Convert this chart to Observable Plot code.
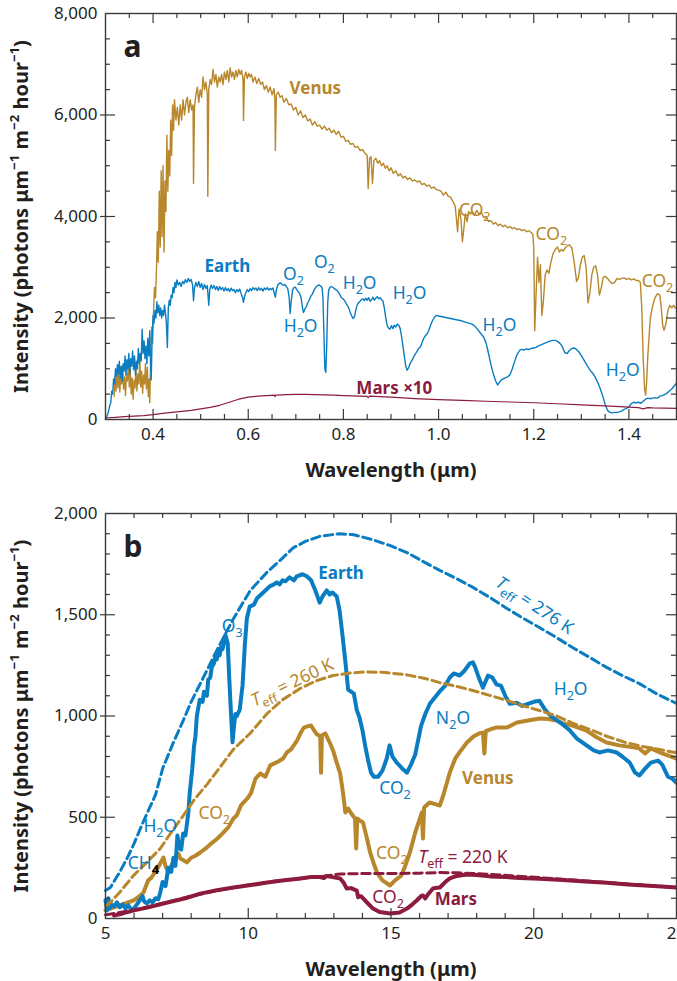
<!DOCTYPE html>
<html>
<head>
<meta charset="utf-8">
<script src="https://cdn.jsdelivr.net/npm/d3@7"></script>
<script src="https://cdn.jsdelivr.net/npm/@observablehq/plot@0.6"></script>
<style>
  html, body { margin: 0; padding: 0; background: #fff; overflow: hidden; }
  #chart { width: 677px; }
  #chart svg { display: block; }
</style>
</head>
<body>
<div id="chart"></div>
<script>
// ---------- Panel a: reflected spectra (wavelength µm, intensity) ----------
const venusA = [
[0.318,450],[0.320,820],[0.322,560],[0.324,950],[0.326,620],[0.328,1000],[0.330,540],[0.332,860],[0.334,700],[0.336,1060],[0.338,600],[0.340,840],[0.342,470],[0.344,900],[0.346,760],[0.348,1140],[0.350,640],[0.352,980],[0.354,500],[0.356,820],[0.358,400],[0.360,780],[0.362,620],[0.364,1000],[0.366,560],[0.368,900],[0.370,700],[0.372,1180],[0.374,640],[0.376,950],[0.378,520],[0.380,880],[0.382,700],[0.384,1100],[0.386,600],[0.388,1030],[0.390,450],[0.392,800],[0.393,330],[0.395,1200],[0.397,1820],[0.399,1500],[0.401,2150],[0.403,2600],[0.405,2400],[0.407,2900],[0.409,3700],[0.411,3100],[0.413,4500],[0.415,3400],[0.417,4900],[0.419,3600],[0.421,5000],[0.423,3300],[0.425,4700],[0.427,4100],[0.429,5600],[0.431,4500],[0.433,5300],[0.435,4800],[0.437,5900],[0.439,5200],[0.441,6200],[0.443,5700],[0.445,6300],[0.448,5900],[0.451,6150],[0.454,5800],[0.457,6200],[0.460,5900],[0.463,6300],[0.466,6000],[0.469,6250],[0.472,6350],[0.475,6050],[0.478,6300],[0.481,6100],[0.484,6200],[0.485,4650],[0.487,6150],[0.490,6400],[0.493,6550],[0.496,6250],[0.499,6500],[0.502,6350],[0.505,6750],[0.508,6500],[0.511,6650],[0.514,6400],[0.515,4400],[0.517,6500],[0.520,6700],[0.523,6600],[0.526,6900],[0.529,6650],[0.532,6800],[0.535,6550],[0.538,6750],[0.541,6650],[0.544,6800],[0.547,6600],[0.550,6850],[0.553,6700],[0.556,6880],[0.559,6650],[0.562,6930],[0.565,6750],[0.568,6850],[0.571,6700],[0.574,6880],[0.577,6750],[0.580,6900],[0.583,6800],[0.586,6880],[0.589,6700],[0.590,5890],[0.592,6750],[0.595,6850],[0.598,6720],[0.601,6820],[0.604,6750],[0.607,6800],[0.610,6650],[0.614,6750],[0.618,6620],[0.622,6720],[0.626,6600],[0.630,6650],[0.634,6500],[0.638,6580],[0.642,6450],[0.646,6550],[0.650,6400],[0.654,6520],[0.656,6300],[0.657,5300],[0.659,6400],[0.663,6450],[0.667,6350],[0.671,6380],[0.675,6250],[0.680,6330],[0.685,6200],[0.690,6220],[0.695,6100],[0.700,6150],[0.705,6000],[0.710,6080],[0.715,5950],[0.720,6000],[0.725,5880],[0.730,5920],[0.735,5800],[0.740,5870],[0.745,5780],[0.750,5800],[0.755,5720],[0.760,5780],[0.765,5700],[0.770,5740],[0.775,5650],[0.780,5700],[0.785,5620],[0.790,5680],[0.795,5560],[0.800,5580],[0.805,5480],[0.810,5500],[0.815,5420],[0.820,5440],[0.825,5360],[0.830,5380],[0.835,5300],[0.840,5320],[0.845,5250],[0.850,5200],[0.852,4550],[0.855,5150],[0.858,5180],[0.861,4650],[0.864,5100],[0.868,5150],[0.872,5050],[0.876,5100],[0.880,5000],[0.884,5050],[0.888,4950],[0.892,5000],[0.896,4900],[0.900,4960],[0.905,4850],[0.910,4900],[0.915,4800],[0.920,4840],[0.925,4760],[0.930,4790],[0.935,4730],[0.940,4760],[0.945,4700],[0.950,4720],[0.955,4680],[0.960,4700],[0.965,4630],[0.970,4650],[0.975,4600],[0.980,4620],[0.985,4560],[0.990,4580],[0.995,4530],[1.000,4520],[1.005,4500],[1.010,4420],[1.015,4480],[1.020,4400],[1.025,4380],[1.030,4300],[1.035,4200],[1.040,3700],[1.043,4150],[1.047,3950],[1.050,3500],[1.053,3750],[1.056,4050],[1.060,3900],[1.063,4100],[1.067,4050],[1.071,4100],[1.075,4020],[1.080,4120],[1.085,4050],[1.090,4080],[1.095,3980],[1.100,4000],[1.105,3900],[1.110,3920],[1.115,3850],[1.120,3880],[1.125,3820],[1.130,3850],[1.135,3800],[1.140,3830],[1.145,3780],[1.150,3800],[1.155,3760],[1.160,3780],[1.165,3740],[1.170,3760],[1.175,3720],[1.180,3740],[1.185,3700],[1.190,3720],[1.195,3680],[1.198,3650],[1.200,3400],[1.202,1750],[1.205,2500],[1.208,3200],[1.211,2700],[1.214,3050],[1.217,2050],[1.220,2300],[1.224,2850],[1.228,2950],[1.232,2880],[1.236,3100],[1.240,3250],[1.245,3350],[1.250,3400],[1.254,3300],[1.258,3350],[1.262,3320],[1.266,3380],[1.270,3420],[1.275,3440],[1.280,3380],[1.285,3100],[1.290,2720],[1.294,2800],[1.298,3050],[1.302,3200],[1.306,3230],[1.310,3000],[1.314,2300],[1.318,2500],[1.322,2850],[1.326,3000],[1.330,3030],[1.334,2850],[1.338,2450],[1.342,2600],[1.346,2800],[1.350,2820],[1.355,2780],[1.360,2720],[1.365,2680],[1.370,2700],[1.375,2780],[1.380,2760],[1.385,2780],[1.390,2790],[1.395,2760],[1.400,2780],[1.405,2750],[1.410,2770],[1.415,2740],[1.420,2740],[1.424,2700],[1.427,2200],[1.430,1200],[1.433,600],[1.435,480],[1.437,700],[1.440,1300],[1.445,2000],[1.450,2250],[1.455,2400],[1.460,2480],[1.465,2450],[1.468,2200],[1.471,1850],[1.474,1760],[1.478,1900],[1.482,2150],[1.486,2250],[1.490,2200],[1.494,2250],[1.497,2200],[1.500,2200]
];
const earthA = [
[0.300,0],[0.303,60],[0.306,150],[0.309,280],[0.311,330],[0.313,560],[0.315,500],[0.317,800],[0.319,700],[0.321,1000],[0.323,850],[0.325,1080],[0.327,900],[0.329,1150],[0.331,820],[0.333,1050],[0.335,760],[0.337,1100],[0.339,950],[0.341,1250],[0.343,880],[0.345,1180],[0.347,1000],[0.349,1300],[0.351,900],[0.353,1200],[0.355,1050],[0.357,1350],[0.359,980],[0.361,1250],[0.363,880],[0.365,1150],[0.367,1000],[0.369,1400],[0.371,1100],[0.373,1300],[0.375,1150],[0.377,1780],[0.379,1300],[0.381,1550],[0.383,1200],[0.385,1450],[0.387,1100],[0.389,1600],[0.391,1250],[0.393,1750],[0.395,1000],[0.396,780],[0.398,1600],[0.400,2050],[0.402,1900],[0.404,2150],[0.406,2000],[0.408,2320],[0.410,2100],[0.412,2250],[0.414,2050],[0.416,2200],[0.418,2000],[0.420,2150],[0.422,2050],[0.424,2250],[0.426,2100],[0.428,1900],[0.430,1420],[0.432,2200],[0.434,2350],[0.436,2250],[0.438,2450],[0.440,2400],[0.442,2600],[0.444,2500],[0.446,2700],[0.448,2600],[0.450,2750],[0.453,2650],[0.456,2700],[0.459,2620],[0.462,2720],[0.465,2680],[0.468,2760],[0.471,2700],[0.474,2780],[0.477,2720],[0.480,2760],[0.483,2650],[0.485,2340],[0.487,2600],[0.490,2700],[0.493,2620],[0.496,2720],[0.499,2600],[0.502,2680],[0.505,2560],[0.508,2660],[0.511,2580],[0.514,2640],[0.517,2250],[0.519,2550],[0.522,2650],[0.525,2580],[0.528,2640],[0.531,2560],[0.534,2620],[0.537,2540],[0.540,2620],[0.543,2560],[0.546,2600],[0.549,2530],[0.552,2600],[0.555,2540],[0.558,2580],[0.561,2520],[0.564,2590],[0.567,2540],[0.570,2560],[0.573,2500],[0.576,2560],[0.579,2520],[0.582,2570],[0.585,2480],[0.588,2400],[0.590,2310],[0.592,2420],[0.595,2500],[0.598,2560],[0.601,2520],[0.604,2580],[0.607,2540],[0.610,2600],[0.613,2560],[0.616,2590],[0.619,2540],[0.622,2600],[0.625,2550],[0.628,2580],[0.631,2530],[0.634,2590],[0.637,2560],[0.640,2600],[0.643,2550],[0.646,2580],[0.649,2560],[0.652,2590],[0.655,2480],[0.657,2410],[0.659,2550],[0.662,2650],[0.665,2680],[0.668,2690],[0.671,2660],[0.674,2640],[0.677,2660],[0.680,2620],[0.683,2580],[0.686,2400],[0.688,2090],[0.690,2300],[0.693,2550],[0.696,2600],[0.699,2610],[0.702,2560],[0.705,2520],[0.708,2480],[0.711,2400],[0.714,2200],[0.716,2110],[0.719,2180],[0.722,2220],[0.725,2300],[0.728,2350],[0.731,2420],[0.734,2460],[0.737,2520],[0.740,2580],[0.743,2620],[0.746,2640],[0.749,2650],[0.752,2630],[0.755,2600],[0.757,2400],[0.759,1700],[0.761,1000],[0.763,930],[0.765,1500],[0.767,2300],[0.769,2550],[0.772,2610],[0.775,2620],[0.778,2600],[0.781,2580],[0.784,2560],[0.787,2540],[0.790,2500],[0.793,2450],[0.796,2400],[0.799,2380],[0.802,2350],[0.805,2300],[0.808,2250],[0.811,2200],[0.814,2120],[0.817,2050],[0.820,1990],[0.823,2020],[0.826,2150],[0.829,2260],[0.832,2300],[0.835,2330],[0.838,2360],[0.841,2380],[0.844,2340],[0.847,2390],[0.850,2350],[0.853,2400],[0.856,2330],[0.859,2360],[0.862,2410],[0.865,2350],[0.868,2390],[0.871,2420],[0.874,2380],[0.877,2400],[0.880,2360],[0.883,2340],[0.886,2200],[0.889,2000],[0.892,1850],[0.895,1800],[0.898,1780],[0.901,1850],[0.904,1790],[0.907,1860],[0.910,1820],[0.913,1880],[0.916,1860],[0.919,1800],[0.922,1650],[0.925,1450],[0.928,1250],[0.931,1050],[0.934,970],[0.937,1020],[0.940,1100],[0.943,1150],[0.946,1200],[0.949,1260],[0.952,1300],[0.955,1350],[0.958,1400],[0.961,1420],[0.964,1480],[0.967,1560],[0.970,1620],[0.973,1660],[0.976,1690],[0.979,1750],[0.982,1820],[0.985,1900],[0.988,1960],[0.991,2010],[0.994,2040],[0.997,2050],[1.000,2040],[1.010,2020],[1.020,2000],[1.030,1980],[1.040,1960],[1.050,1940],[1.060,1910],[1.070,1880],[1.075,1850],[1.080,1800],[1.085,1740],[1.090,1680],[1.095,1620],[1.100,1500],[1.105,1300],[1.110,1080],[1.115,900],[1.120,760],[1.124,680],[1.128,730],[1.132,780],[1.136,800],[1.140,820],[1.145,840],[1.150,880],[1.155,1000],[1.160,1150],[1.165,1280],[1.170,1360],[1.175,1380],[1.180,1370],[1.185,1390],[1.190,1380],[1.195,1400],[1.200,1410],[1.205,1420],[1.210,1450],[1.215,1470],[1.220,1490],[1.225,1510],[1.230,1530],[1.235,1550],[1.240,1560],[1.245,1560],[1.250,1540],[1.255,1500],[1.260,1440],[1.265,1320],[1.270,1300],[1.275,1360],[1.280,1400],[1.285,1410],[1.290,1380],[1.295,1330],[1.300,1260],[1.305,1180],[1.310,1100],[1.315,1020],[1.320,950],[1.325,900],[1.330,820],[1.335,720],[1.340,600],[1.345,460],[1.350,300],[1.355,180],[1.360,140],[1.365,130],[1.370,140],[1.375,140],[1.380,150],[1.385,170],[1.390,200],[1.395,220],[1.400,250],[1.405,310],[1.410,340],[1.415,330],[1.420,340],[1.425,320],[1.430,360],[1.435,400],[1.440,420],[1.445,410],[1.450,420],[1.455,430],[1.460,420],[1.465,460],[1.470,470],[1.475,490],[1.480,520],[1.485,560],[1.490,600],[1.495,660],[1.500,720]
];
const marsA = [
[0.300,30],[0.320,40],[0.340,55],[0.360,65],[0.380,75],[0.400,95],[0.420,120],[0.440,140],[0.460,160],[0.480,180],[0.500,210],[0.520,240],[0.540,280],[0.560,340],[0.580,400],[0.600,440],[0.620,460],[0.640,470],[0.655,480],[0.656,450],[0.658,480],[0.680,490],[0.700,495],[0.720,495],[0.740,490],[0.760,485],[0.780,480],[0.800,470],[0.850,455],[0.852,430],[0.855,460],[0.900,440],[0.950,410],[1.000,390],[1.050,375],[1.100,360],[1.150,345],[1.200,330],[1.250,310],[1.300,290],[1.350,270],[1.400,245],[1.420,235],[1.430,210],[1.440,235],[1.450,230],[1.500,220]
];

// ---------- Panel b: thermal emission ----------
const earthB = [
[5.0,90],[5.05,40],[5.1,100],[5.15,50],[5.2,70],[5.3,60],[5.4,80],[5.5,55],[5.6,70],[5.7,50],[5.8,65],[5.9,45],[6.0,50],[6.1,70],[6.2,90],[6.3,110],[6.35,85],[6.45,75],[6.55,90],[6.65,80],[6.75,100],[6.85,95],[6.92,130],[7.0,180],[7.1,160],[7.2,250],[7.3,230],[7.38,300],[7.45,260],[7.52,410],[7.58,350],[7.65,340],[7.72,420],[7.8,410],[7.9,520],[7.95,620],[8.04,740],[8.1,850],[8.15,900],[8.2,1000],[8.3,1080],[8.4,1070],[8.45,1120],[8.55,1100],[8.6,1180],[8.67,1190],[8.72,1240],[8.8,1260],[8.85,1290],[8.9,1280],[8.95,1320],[9.0,1300],[9.05,1340],[9.1,1330],[9.2,1400],[9.28,1360],[9.33,1200],[9.4,1000],[9.45,870],[9.5,950],[9.55,1010],[9.6,1000],[9.7,1030],[9.8,1150],[9.88,1350],[9.95,1480],[10.05,1540],[10.2,1550],[10.3,1580],[10.45,1600],[10.6,1620],[10.75,1640],[10.9,1650],[11.0,1660],[11.1,1650],[11.2,1670],[11.3,1665],[11.45,1685],[11.6,1670],[11.7,1690],[11.9,1700],[12.05,1690],[12.2,1670],[12.35,1620],[12.5,1560],[12.6,1590],[12.75,1620],[12.85,1600],[12.95,1610],[13.1,1590],[13.2,1520],[13.3,1400],[13.4,1270],[13.5,1130],[13.6,1120],[13.7,1110],[13.8,1030],[13.9,990],[14.0,930],[14.1,850],[14.2,780],[14.3,720],[14.4,700],[14.55,700],[14.7,730],[14.85,790],[14.95,855],[15.05,800],[15.2,770],[15.4,740],[15.56,720],[15.7,760],[15.85,810],[15.95,880],[16.05,950],[16.2,1010],[16.36,1060],[16.5,1085],[16.7,1120],[16.9,1150],[17.06,1190],[17.2,1210],[17.4,1200],[17.55,1220],[17.76,1260],[17.87,1265],[17.95,1240],[18.1,1180],[18.22,1140],[18.4,1200],[18.55,1190],[18.7,1155],[18.85,1150],[19.0,1100],[19.16,1060],[19.4,1065],[19.6,1050],[19.8,1060],[20.0,1070],[20.2,1075],[20.4,1030],[20.6,1000],[20.8,980],[21.0,960],[21.26,930],[21.5,890],[21.85,855],[22.1,830],[22.3,820],[22.6,830],[22.9,820],[23.1,800],[23.36,770],[23.55,720],[23.7,706],[23.9,740],[24.1,770],[24.35,780],[24.5,760],[24.7,700],[24.86,690],[25.0,670]
];
const venusB = [
[5.0,40],[5.17,49],[5.4,60],[5.6,70],[5.98,89],[6.15,105],[6.33,128],[6.5,190],[6.6,200],[6.82,247],[6.95,280],[7.03,301],[7.1,260],[7.2,227],[7.3,260],[7.38,277],[7.47,300],[7.55,321],[7.62,296],[7.7,290],[7.85,277],[8.0,300],[8.15,310],[8.32,326],[8.5,345],[8.7,370],[8.92,395],[9.1,420],[9.3,450],[9.48,494],[9.6,510],[9.75,560],[9.97,593],[10.1,620],[10.25,690],[10.42,716],[10.6,700],[10.77,756],[10.9,765],[11.05,775],[11.22,790],[11.35,820],[11.5,835],[11.71,879],[11.85,920],[11.95,943],[12.1,950],[12.2,953],[12.3,930],[12.4,910],[12.52,900],[12.55,720],[12.58,905],[12.7,914],[12.85,870],[12.97,830],[13.1,770],[13.22,716],[13.32,620],[13.4,523],[13.5,543],[13.6,520],[13.74,494],[13.78,346],[13.82,494],[13.95,480],[14.02,474],[14.15,400],[14.27,326],[14.4,270],[14.51,227],[14.7,188],[14.97,163],[15.15,190],[15.35,210],[15.5,260],[15.66,326],[15.85,425],[16.08,523],[16.12,395],[16.16,548],[16.35,573],[16.55,565],[16.71,558],[16.85,617],[17.06,721],[17.25,790],[17.45,830],[17.66,869],[17.9,900],[18.1,915],[18.22,918],[18.27,815],[18.32,925],[18.5,935],[18.7,943],[19.06,943],[19.41,968],[19.8,978],[20.2,988],[20.5,985],[20.8,978],[21.0,965],[21.36,953],[21.85,928],[22.2,895],[22.55,869],[23.0,855],[23.5,845],[23.7,840],[23.9,815],[24.1,840],[24.5,815],[25.0,790]
];
const marsB = [
[5.3,15],[5.6,25],[6.0,40],[6.5,55],[7.17,79],[7.8,100],[8.32,123],[8.9,140],[9.48,153],[10.1,165],[10.66,178],[11.2,188],[11.82,198],[12.2,205],[12.52,205],[12.65,200],[12.75,210],[13.0,203],[13.22,198],[13.35,175],[13.45,148],[13.6,150],[13.8,138],[13.85,105],[13.95,110],[14.16,79],[14.37,49],[14.6,32],[14.97,25],[15.3,30],[15.56,49],[15.75,70],[15.9,89],[16.05,110],[16.12,114],[16.2,99],[16.3,120],[16.47,148],[16.6,152],[16.71,153],[16.9,180],[17.06,198],[17.3,210],[17.66,217],[18.0,215],[18.46,208],[19.0,205],[19.5,200],[20.2,196],[21.0,190],[21.8,183],[22.55,176],[23.3,168],[24.2,160],[25.0,153]
];
// blackbody curves (dashed)
const earthBB = [
[5.0,138],[5.17,153],[5.5,230],[5.77,301],[6.0,370],[6.33,480],[6.75,610],[7.0,740],[7.38,870],[7.73,980],[8.0,1070],[8.57,1230],[8.92,1330],[9.48,1480],[10.07,1620],[10.66,1710],[11.2,1780],[11.57,1830],[12.0,1862],[12.52,1888],[13.2,1900],[13.7,1895],[14.37,1870],[15.0,1840],[15.56,1807],[16.1,1765],[16.71,1719],[17.3,1678],[17.87,1635],[18.5,1582],[19.06,1531],[19.6,1485],[20.2,1437],[20.8,1387],[21.36,1338],[21.95,1290],[22.55,1240],[23.1,1200],[23.7,1160],[24.3,1110],[25.0,1062]
];
const venusBB = [
[5.0,62],[5.17,79],[5.5,130],[5.98,212],[6.5,285],[6.92,346],[7.3,425],[7.73,509],[8.1,585],[8.57,665],[9.0,745],[9.48,835],[10.07,915],[10.66,1012],[11.2,1080],[11.82,1136],[12.4,1175],[12.97,1200],[13.6,1213],[14.16,1218],[14.8,1215],[15.56,1203],[16.2,1185],[16.71,1165],[17.3,1146],[17.87,1126],[18.5,1100],[19.06,1077],[19.6,1052],[20.2,1027],[20.8,1000],[21.36,965],[22.0,932],[22.55,900],[23.2,870],[23.8,850],[24.4,835],[25.0,818]
];
const marsBB = [
[5.0,18],[6.0,42],[7.0,75],[8.0,110],[9.0,140],[10.0,165],[11.0,185],[12.0,200],[12.7,210],[13.22,220],[14.0,222],[14.97,222],[16.0,224],[16.71,227],[17.3,226],[17.87,222],[18.5,218],[19.2,211],[20.2,202],[21.4,190],[22.55,178],[23.8,165],[25.0,153]
];

// ---------- ticks ----------
const xLabelsA = [0.4,0.6,0.8,1.0,1.2,1.4];
const xMajorA = [0.4,0.6,0.8,1.0,1.2,1.4];
const xMinorA = [0.35,0.45,0.5,0.55,0.65,0.7,0.75,0.85,0.9,0.95,1.05,1.1,1.15,1.25,1.3,1.35,1.45];
const yLabelsA = [0,2000,4000,6000,8000];
const yMajorA = [2000,4000,6000];
const yMinorA = [500,1000,1500,2500,3000,3500,4500,5000,5500,6500,7000,7500];

const xLabelsB = [5,10,15,20,25];
const xMajorB = [10,15,20];
const xMinorB = [6,7,8,9,11,12,13,14,16,17,18,19,21,22,23,24];
const yLabelsB = [0,500,1000,1500,2000];
const yMajorB = [500,1000,1500];
const yMinorB = [100,200,300,400,600,700,800,900,1100,1200,1300,1400,1600,1700,1800,1900];

// ---------- annotations: [text, x, y, series, bold, rotate] ----------
const annA = [
 ["Venus",0.741,6517,"venus",true,0],
 ["Earth",0.556,3015,"earth",true,0],
 ["O_{2}",0.695,2858,"earth",false,0],
 ["O_{2}",0.760,3094,"earth",false,0],
 ["H_{2}O",0.710,1835,"earth",false,0],
 ["H_{2}O",0.834,2681,"earth",false,0],
 ["H_{2}O",0.939,2485,"earth",false,0],
 ["H_{2}O",1.128,1855,"earth",false,0],
 ["H_{2}O",1.387,969,"earth",false,0],
 ["CO_{2}",1.076,4130,"venus",false,0],
 ["CO_{2}",1.237,3655,"venus",false,0],
 ["CO_{2}",1.460,2720,"venus",false,0],
 ["Mars ×10",0.907,618,"mars",true,0]
];
const annB = [
 ["Earth",13.25,1704,"earth",true,0],
 ["O_{3}",9.44,1442,"earth",false,0],
 ["*T*_{eff} = 276 K",20.03,1546,"earth",false,33.7],
 ["*T*_{eff} = 260 K",11.54,1165,"venus",false,-25.5],
 ["H_{2}O",21.29,1131,"earth",false,0],
 ["N_{2}O",17.17,988,"earth",false,0],
 ["CO_{2}",15.14,642,"earth",false,0],
 ["Venus",18.39,691,"venus",true,0],
 ["CO_{2}",15.03,321,"venus",false,0],
 ["*T*_{eff} = 220 K",17.52,301,"mars",false,0],
 ["CO_{2}",14.9,104,"mars",false,0],
 ["Mars",17.27,94,"mars",true,0],
 ["CO_{2}",8.81,519,"venus",false,0],
 ["H_{2}O",6.92,454,"earth",false,0],
 ["CH_!{4}",6.33,272,"earth",false,0]
];

const COLORS = {venus: "#B8872C", earth: "#0A7DC2", mars: "#8C1B3D"};
const INK = "#231f20";
const FONT = "'Noto Sans', 'DejaVu Sans', sans-serif";
const YLABEL = "Intensity (photons μm^{−1} m^{−2} hour^{−1})";

function tickMarks(xMinor, xMajor, yMinor, yMajor, W, H) {
  const s = {stroke: "#3a3a3a", strokeWidth: 1.2};
  return [
    Plot.ruleX(xMinor, {...s, insetTop: H - 5}),
    Plot.ruleX(xMajor, {...s, insetTop: H - 10}),
    Plot.ruleX(xMinor, {...s, insetBottom: H - 5}),
    Plot.ruleX(xMajor, {...s, insetBottom: H - 10}),
    Plot.ruleY(yMinor, {...s, insetRight: W - 5}),
    Plot.ruleY(yMajor, {...s, insetLeft: -5, insetRight: W - 10}),
    Plot.ruleY(yMinor, {...s, insetLeft: W - 5}),
    Plot.ruleY(yMajor, {...s, insetLeft: W - 10})
  ];
}
function annot(arr, fs) {
  const out = [];
  for (const k of Object.keys(COLORS)) for (const b of [false, true]) {
    const sub = arr.filter(d => d[3] === k && d[4] === b);
    if (!sub.length) continue;
    out.push(Plot.text(sub, {x: d => d[1], y: d => d[2], text: d => d[0], rotate: d => d[5],
      fill: COLORS[k], fontWeight: b ? "bold" : "normal", fontSize: b ? fs - 0.5 : fs,
      textAnchor: "middle", lineAnchor: "middle"}));
  }
  return out;
}
const xy = {x: d => d[0], y: d => d[1]};
const dash = {strokeWidth: 3, strokeDasharray: "8.5,4.5"};
const solid = {strokeWidth: 4, strokeLinejoin: "round"};

// Panel a
const WA = 677, HA = 480, mLA = 105, mRA = 1, mTA = 13, mBA = 61;
const panelA = Plot.plot({
  width: WA, height: HA, marginLeft: mLA, marginRight: mRA, marginTop: mTA, marginBottom: mBA,
  style: {fontFamily: FONT, fontSize: "17px", color: INK, background: "white", overflow: "visible"},
  x: {domain: [0.3, 1.5]},
  y: {domain: [0, 8000]},
  marks: [
    Plot.line(venusA, {...xy, stroke: COLORS.venus, strokeWidth: 1.4}),
    Plot.line(earthA, {...xy, stroke: COLORS.earth, strokeWidth: 1.4}),
    Plot.line(marsA, {...xy, stroke: COLORS.mars, strokeWidth: 1.2}),
    ...tickMarks(xMinorA, xMajorA, yMinorA, yMajorA, WA - mLA - mRA, HA - mTA - mBA),
    Plot.frame({stroke: "#3a3a3a", strokeWidth: 1.4}),
    Plot.axisX({anchor: "bottom", ticks: xLabelsA, tickFormat: d3.format(".1f"), tickSize: 0, tickPadding: 8,
      label: "Wavelength (μm)", labelAnchor: "center", labelOffset: 57, labelArrow: "none"}),
    Plot.axisY({anchor: "left", ticks: yLabelsA, tickFormat: d3.format(","), tickSize: 0, tickPadding: 8,
      label: YLABEL, labelAnchor: "center", labelOffset: 92, labelArrow: "none"}),
    Plot.text(["a"], {frameAnchor: "top-left", dx: 18, dy: 22, fontSize: 30, fontWeight: "bold", fill: INK, textAnchor: "start", lineAnchor: "top"}),
    ...annot(annA, 17.5)
  ]
});

// Panel b
const WB = 677, HB = 501, mLB = 105, mRB = 1, mTB = 33, mBB = 63;
const panelB = Plot.plot({
  width: WB, height: HB, marginLeft: mLB, marginRight: mRB, marginTop: mTB, marginBottom: mBB,
  style: {fontFamily: FONT, fontSize: "17px", color: INK, background: "white", overflow: "visible"},
  x: {domain: [5, 25]},
  y: {domain: [0, 2000]},
  marks: [
    Plot.line(marsB, {...xy, ...solid, stroke: COLORS.mars}),
    Plot.line(venusB, {...xy, ...solid, stroke: COLORS.venus}),
    Plot.line(earthB, {...xy, ...solid, stroke: COLORS.earth}),
    Plot.line(marsBB, {...xy, ...dash, stroke: COLORS.mars}),
    Plot.line(venusBB, {...xy, ...dash, stroke: COLORS.venus}),
    Plot.line(earthBB, {...xy, ...dash, stroke: COLORS.earth}),
    ...tickMarks(xMinorB, xMajorB, yMinorB, yMajorB, WB - mLB - mRB, HB - mTB - mBB),
    Plot.frame({stroke: "#3a3a3a", strokeWidth: 1.4}),
    Plot.axisX({anchor: "bottom", ticks: xLabelsB, tickFormat: d3.format("d"), tickSize: 0, tickPadding: 8,
      label: "Wavelength (μm)", labelAnchor: "center", labelOffset: 57, labelArrow: "none"}),
    Plot.axisY({anchor: "left", ticks: yLabelsB, tickFormat: d3.format(","), tickSize: 0, tickPadding: 8,
      label: YLABEL, labelAnchor: "center", labelOffset: 92, labelArrow: "none"}),
    Plot.text(["b"], {frameAnchor: "top-left", dx: 18, dy: 22, fontSize: 30, fontWeight: "bold", fill: INK, textAnchor: "start", lineAnchor: "top"}),
    ...annot(annB, 17.5)
  ]
});

const chart = document.getElementById("chart");
chart.append(panelA, panelB);

// bold axis titles
chart.querySelectorAll('g[aria-label="x-axis label"] text, g[aria-label="y-axis label"] text').forEach(t => {
  t.setAttribute("font-weight", "bold");
  t.setAttribute("font-size", "20");
  t.setAttribute("fill", INK);
});

// rich text: _{sub} ^{sup} *italic* _!{black bold sub}
function enrich(root) {
  const NS = "http://www.w3.org/2000/svg";
  root.querySelectorAll("text").forEach(t => {
    if (t.querySelector("tspan")) return;
    const s = t.textContent;
    if (!/[_^]!?\{|\*/.test(s)) return;
    const fs = parseFloat(getComputedStyle(t).fontSize) || 16;
    t.textContent = "";
    let shift = 0;
    s.split(/(_!?\{[^}]*\}|\^\{[^}]*\}|\*[^*]+\*)/g).forEach(part => {
      if (!part) return;
      const ts = document.createElementNS(NS, "tspan");
      let target = 0, txt = part;
      if (part.startsWith("_!{")) { target = 0.3 * fs; txt = part.slice(3, -1); ts.setAttribute("font-size", 0.75 * fs); ts.setAttribute("fill", "#000"); ts.setAttribute("font-weight", "bold"); }
      else if (part.startsWith("_{")) { target = 0.3 * fs; txt = part.slice(2, -1); ts.setAttribute("font-size", 0.72 * fs); }
      else if (part.startsWith("^{")) { target = -0.42 * fs; txt = part.slice(2, -1); ts.setAttribute("font-size", 0.66 * fs); }
      else if (part.startsWith("*")) { txt = part.slice(1, -1); ts.setAttribute("font-style", "italic"); }
      const dy = target - shift;
      if (dy) ts.setAttribute("dy", dy.toFixed(2));
      shift = target;
      ts.textContent = txt;
      t.appendChild(ts);
    });
  });
}
enrich(chart);
</script>
</body>
</html>
